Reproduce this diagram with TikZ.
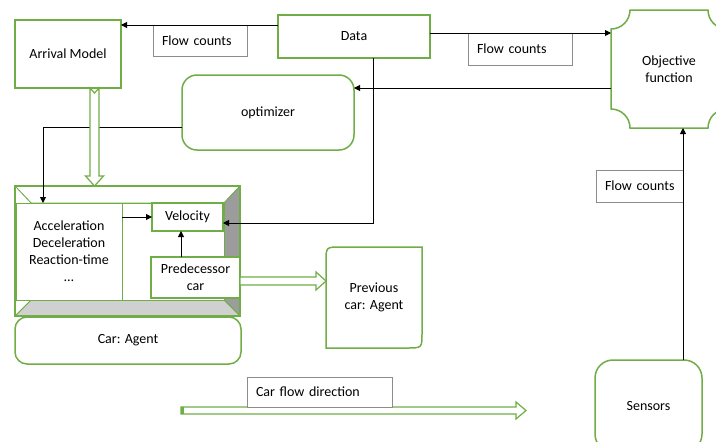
\documentclass[tikz,border=0pt]{standalone}
\usepackage{fontspec}
\setmainfont{Carlito}
\usetikzlibrary{arrows.meta,calc}
\definecolor{ogreen}{HTML}{70AD47}
\definecolor{lblgray}{HTML}{8C8C8C}
\definecolor{darkbev}{HTML}{9C9C9C}
\definecolor{lightbev}{HTML}{D0D0D0}
\begin{document}
\begin{tikzpicture}[x=1pt,y=-1pt,
  every node/.style={font=\fontsize{14pt}{17pt}\selectfont, outer sep=0pt, inner sep=0pt},
  gbox/.style={draw=ogreen, line width=1.5pt, fill=white, align=center},
  gthin/.style={draw=ogreen, line width=1pt, fill=white, align=center},
  rbox/.style={gbox, rounded corners=#1},
  lbl/.style={draw=lblgray, line width=0.8pt, fill=white, anchor=north west, inner xsep=0pt, align=left},
  arr/.style={draw=black, line width=1pt, -{Triangle[length=6pt,width=6pt]}},
  hollow/.style={draw=ogreen, line width=1.2pt, fill=white},
  bev/.style={draw=ogreen, line width=0.8pt}
]
\useasboundingbox (0,0) rectangle (716,442);

% ---- car frame (bevel) ----
\fill[white] (15,186) rectangle (240,316);
\filldraw[bev, fill=white] (15,186) -- (240,186) -- (224,203) -- (31,203) -- cycle;
\filldraw[bev, fill=darkbev] (240,186) -- (240,316) -- (224,300) -- (224,203) -- cycle;
\filldraw[bev, fill=lightbev] (15,316) -- (240,316) -- (224,300) -- (31,300) -- cycle;
\filldraw[bev, fill=white] (15,186) -- (31,203) -- (31,300) -- (15,316) -- cycle;
\filldraw[bev, fill=white] (31,203) rectangle (224,300);
\draw[draw=ogreen, line width=1.5pt] (15,186) rectangle (240,316);
\node[minimum width=225pt, minimum height=130pt] (carframe) at (127.5,251) {};

% ---- nodes ----
\node[gbox, minimum width=106pt, minimum height=68pt] (arrival) at (68,54) {Arrival Model};
\node[gbox, minimum width=152pt, minimum height=43pt] (data) at (354,36.5) {Data};
\node[rbox=15pt, minimum width=172pt, minimum height=75pt] (opt) at (268,112.5) {optimizer};

% objective function (plaque shape)
\filldraw[draw=ogreen, line width=1.5pt, fill=white]
  (630,10) -- (708,10) arc[start angle=180, end angle=90, radius=19]
  -- (727,109) arc[start angle=270, end angle=180, radius=19]
  -- (630,128) arc[start angle=0, end angle=-90, radius=19]
  -- (611,29) arc[start angle=90, end angle=0, radius=19] -- cycle;
\node[minimum width=116pt, minimum height=118pt, align=center] (obj) at (669,69) {Objective\\function};

\node[gthin, minimum width=106pt, minimum height=97pt] (accel) at (69,251.5) {Acceleration\\Deceleration\\Reaction-time\\…};
\node[gbox, minimum width=71pt, minimum height=28pt] (vel) at (187.5,217) {Velocity};
\node[gbox, minimum width=89pt, minimum height=41pt] (pred) at (195.5,277.5) {Predecessor\\car};
\node[rbox=12pt, minimum width=226pt, minimum height=47pt] (car) at (128,340.5) {Car: Agent};

% previous car (two rounded corners)
\filldraw[draw=ogreen, line width=1.5pt, fill=white]
  (341,247) -- (422,247) -- (422,333) .. controls (422,348) .. (407,348)
  -- (326,348) -- (326,262) .. controls (326,247) .. (341,247) -- cycle;
\node[minimum width=96pt, minimum height=101pt, align=center] (prev) at (374,297.5) {Previous\\car: Agent};

\node[rbox=18pt, minimum width=107pt, minimum height=92pt] (sensors) at (648.5,406) {Sensors};

% ---- labels ----
\node[lbl, text width=94pt, minimum height=31pt] (fc1) at (153,25) {\hspace*{9pt}Flow counts};
\node[lbl, text width=104pt, minimum height=32pt] (fc2) at (468,33) {\hspace*{9pt}Flow counts};
\node[lbl, text width=87pt, minimum height=32pt] (fc3) at (596,170) {\hspace*{9pt}Flow counts};

% ---- connectors ----
\coordinate (p1) at ([yshift=-10pt]data.north west);
\draw[arr] (p1) -- (p1 -| arrival.east);

\coordinate (p2) at ([yshift=3.5pt]data.east);
\draw[arr] (p2) -- (p2 -| obj.west);

\coordinate (p3) at ([yshift=-19pt]obj.west);
\draw[arr] (p3) -- (p3 -| opt.east);

\draw[arr] ([yshift=-14.5pt]opt.west) -| ([xshift=27pt]accel.north west);

\draw[arr] ([xshift=19pt]data.south) |- ([yshift=-6pt]vel.east);

\draw[arr] (accel.east |- vel.west) -- (vel.west);

\coordinate (p4) at ([xshift=-14.5pt]pred.north);
\draw[arr] (p4) -- (p4 |- vel.south);

\coordinate (p5) at ([xshift=34.5pt]sensors.north);
\draw[arr] (p5) -- (p5 |- obj.south);

% hollow arrow: arrival model -> car frame
\coordinate (t1) at ([xshift=26.5pt]arrival.south);
\coordinate (h1) at (t1 |- carframe.north);
\draw[hollow] ([xshift=-4.5pt]t1) -- ([xshift=-4.5pt,yshift=10pt]h1) -- ([xshift=-9pt,yshift=10pt]h1)
  -- (h1) -- ([xshift=9pt,yshift=10pt]h1) -- ([xshift=4.5pt,yshift=10pt]h1)
  -- ([xshift=4.5pt]t1) -- ([yshift=-5pt]t1) -- cycle;

% hollow arrow: predecessor -> previous car
\coordinate (t2) at ([yshift=-3.5pt]pred.east);
\coordinate (h2) at (prev.west |- t2);
\draw[hollow] ([yshift=4pt]t2) -- ([xshift=-10pt,yshift=4pt]h2) -- ([xshift=-10pt,yshift=9pt]h2)
  -- (h2) -- ([xshift=-10pt,yshift=-9pt]h2) -- ([xshift=-10pt,yshift=-4pt]h2)
  -- ([yshift=-4pt]t2) -- cycle;

% car flow direction arrow
\coordinate (fs) at (181,410.5);
\coordinate (fe) at (526,410.5);
\draw[hollow] ([yshift=3.5pt]fs) -- ([xshift=-10pt,yshift=3.5pt]fe) -- ([xshift=-10pt,yshift=8.5pt]fe)
  -- (fe) -- ([xshift=-10pt,yshift=-8.5pt]fe) -- ([xshift=-10pt,yshift=-3.5pt]fe)
  -- ([yshift=-3.5pt]fs) -- cycle;
\fill[ogreen] ([yshift=3.5pt]fs) rectangle ([xshift=3pt,yshift=-3.5pt]fs);
\node[lbl, text width=145pt, minimum height=30pt] (cfd) at (247,377) {\hspace*{9pt}Car flow direction};
\end{tikzpicture}
\end{document}
